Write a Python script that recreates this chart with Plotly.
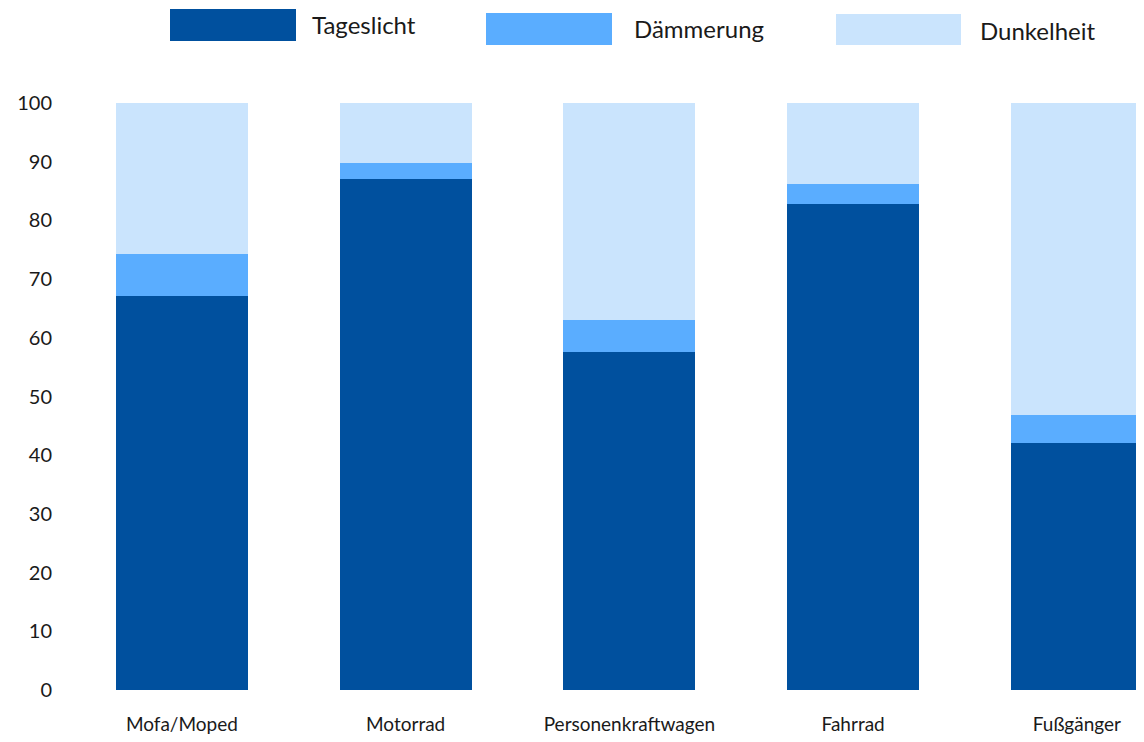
import plotly.graph_objects as go

categories = ["Mofa/Moped", "Motorrad", "Personenkraftwagen", "Fahrrad", "Fußgänger"]
tageslicht = [67.1, 87.1, 57.6, 82.8, 42.1]
daemmerung = [7.2, 2.7, 5.5, 3.4, 4.8]
dunkelheit = [25.7, 10.2, 36.9, 13.8, 53.1]
series_names = ["Tageslicht", "Dämmerung", "Dunkelheit"]
colors = ["#00509e", "#5aadff", "#cae4fd"]
y_ticks = [0, 10, 20, 30, 40, 50, 60, 70, 80, 90, 100]

OFF = 8  # page body margin
W, H = 1144 - OFF, 742 - OFF
L, R, T = 70 - OFF, 0, 103 - OFF
B = H - (690.5 - OFF)
FONT = "Lato"

fig = go.Figure()
for name, vals, col in zip(series_names, [tageslicht, daemmerung, dunkelheit], colors):
    fig.add_trace(go.Bar(x=categories, y=vals, name=name, marker=dict(color=col, line=dict(width=0)),
                         width=0.59, showlegend=False))

pw = W - L - R
ph = H - T - B
def px_x(p):
    return (p - OFF - L) / pw
def px_y(p):
    return (H - B - (p - OFF)) / ph

# legend drawn manually (large swatches), positions in page pixels
legend_items = [
    (170, 296, 9, 41, 310, 24),
    (486, 612, 13, 45, 632, 28),
    (836, 961, 14, 45, 978, 30),
]
for (x0, x1, y0, y1, tx, ty), name, col in zip(legend_items, series_names, colors):
    fig.add_shape(type="rect", xref="paper", yref="paper", x0=px_x(x0), x1=px_x(x1),
                  y0=px_y(y1), y1=px_y(y0), fillcolor=col, line=dict(width=0), layer="above")
    fig.add_annotation(xref="paper", yref="paper", x=px_x(tx), y=px_y(ty), text=name,
                       showarrow=False, xanchor="left", yanchor="middle",
                       font=dict(family=FONT, size=24, color="#1a1a1a"))

fig.update_layout(
    barmode="stack",
    width=W, height=H,
    margin=dict(l=L, r=R, t=T, b=B, pad=0),
    paper_bgcolor="white", plot_bgcolor="white",
    font=dict(family=FONT, size=20, color="#1a1a1a"),
    bargap=0,
)
fig.update_xaxes(range=[-0.5, 4.3], showgrid=False, showline=False, zeroline=False,
                 ticks="", ticklabelstandoff=21, tickfont=dict(family=FONT, size=19, color="#1a1a1a"))
fig.update_yaxes(range=[0, 100], tickvals=y_ticks, showgrid=False, showline=False, zeroline=False,
                 ticks="", ticklabelstandoff=17, tickfont=dict(family=FONT, size=20, color="#1a1a1a"))

fig.write_html("out.html")
